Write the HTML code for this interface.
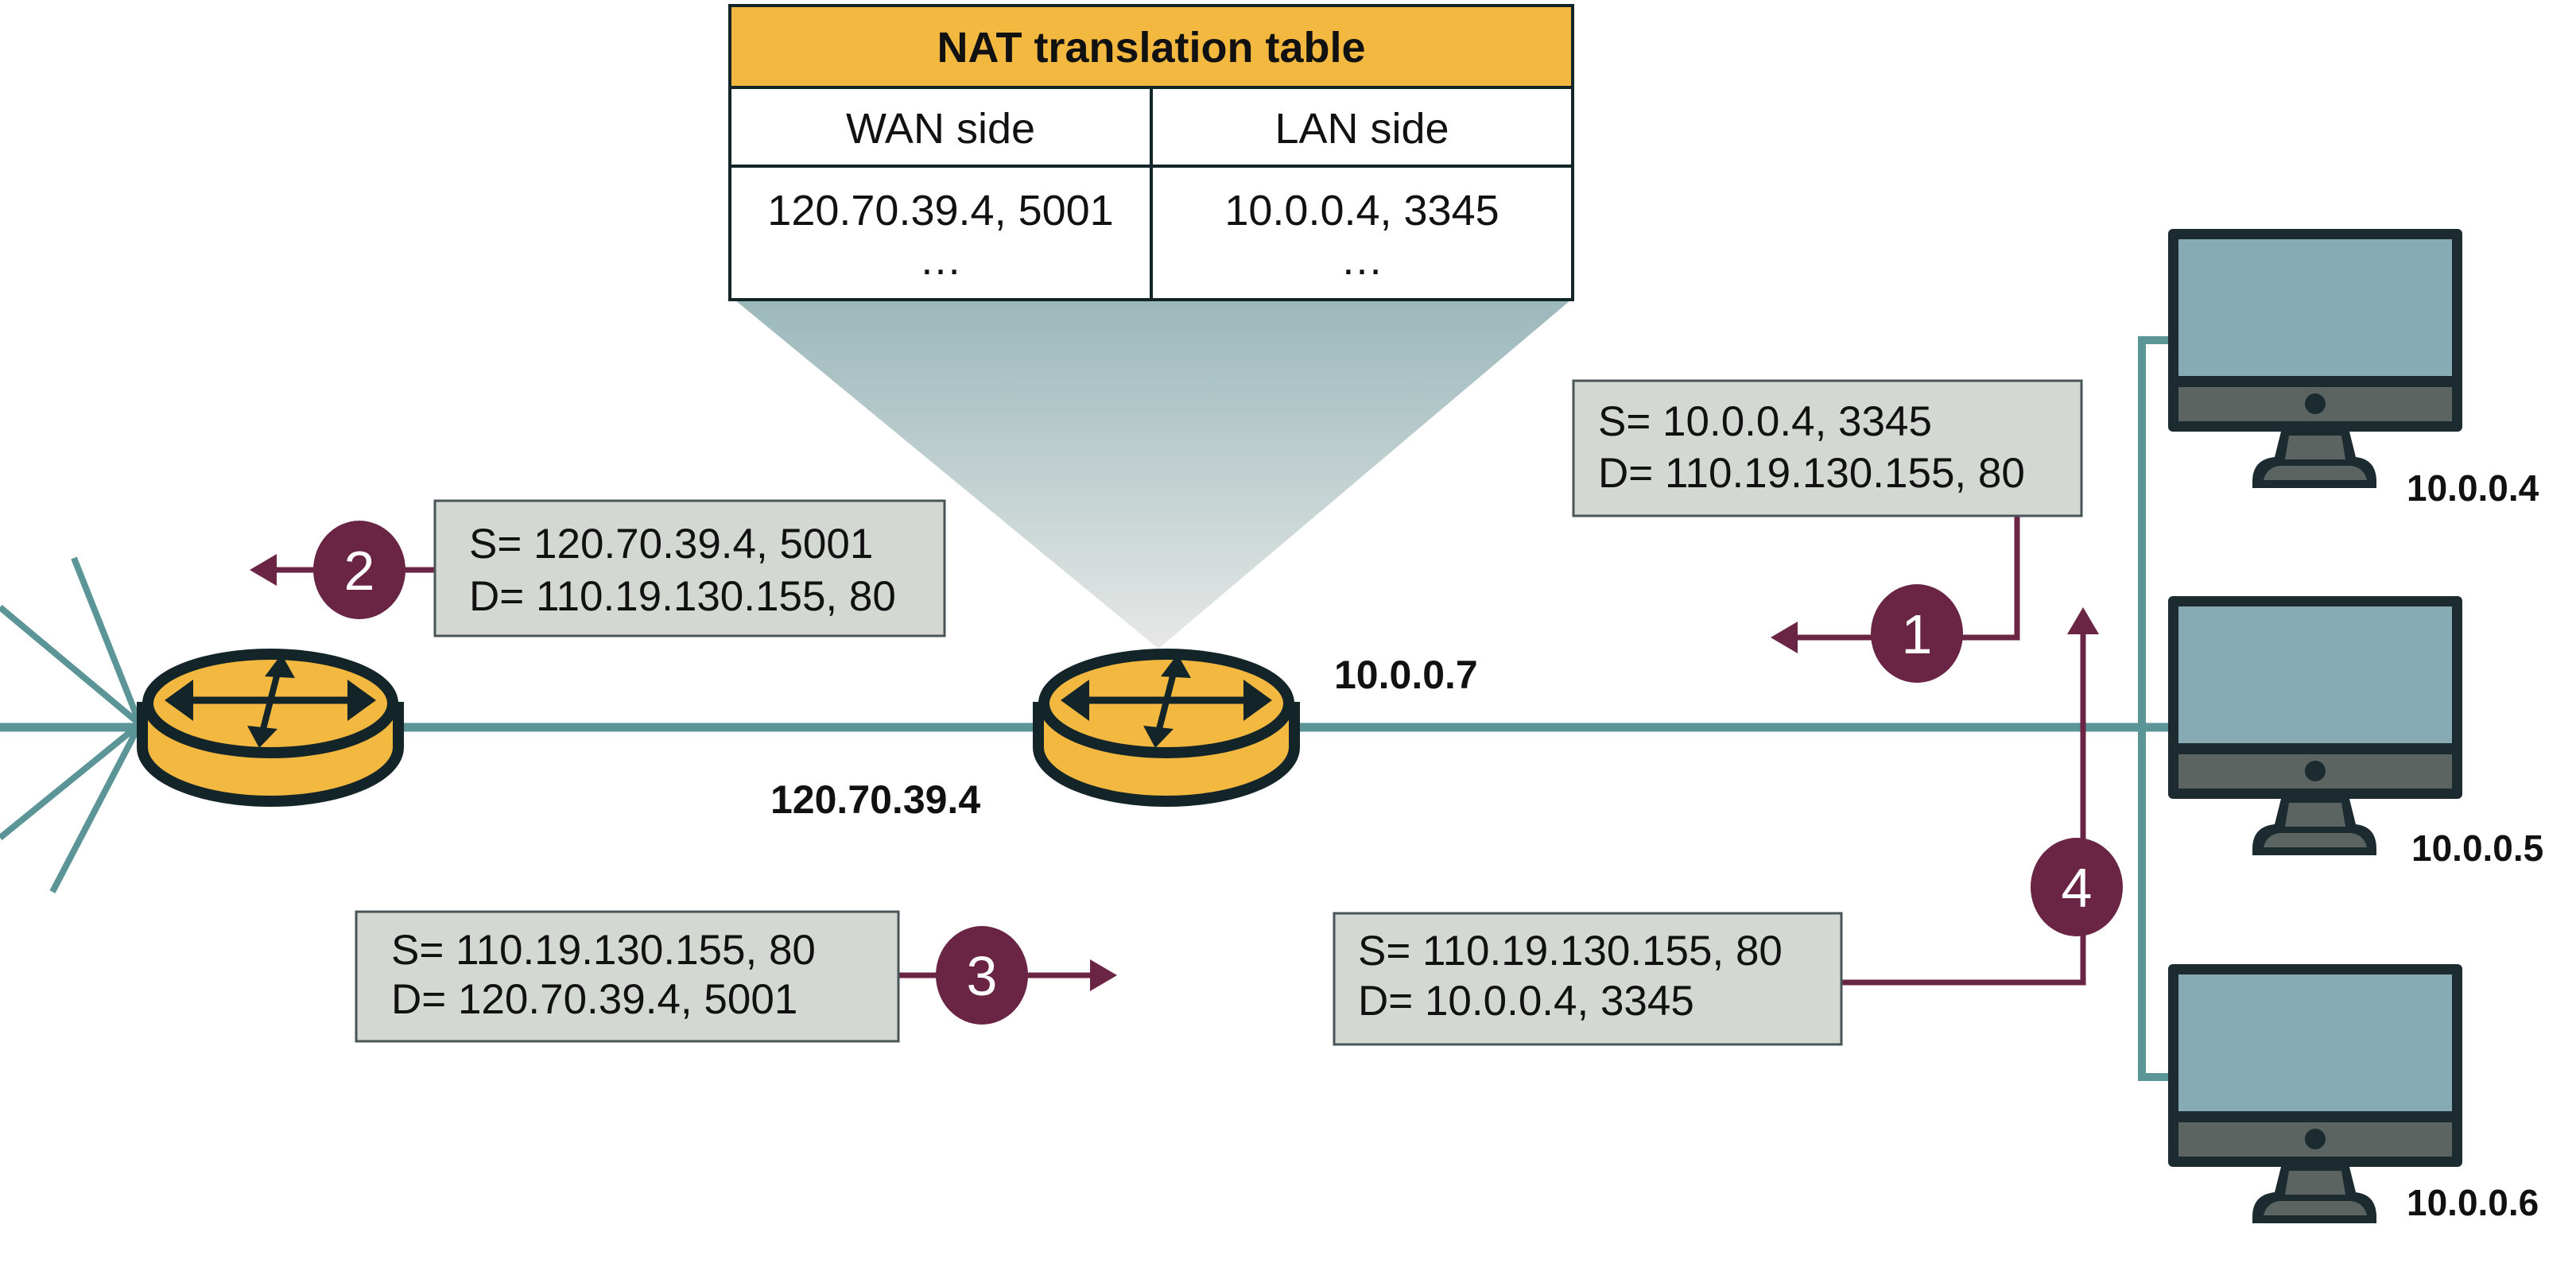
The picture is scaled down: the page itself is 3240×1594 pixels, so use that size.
<!DOCTYPE html>
<html><head><meta charset="utf-8"><style>
html,body{margin:0;padding:0;background:#fff;}
svg{display:block;}
text{font-family:"Liberation Sans",Arial,sans-serif;}
</style></head><body>
<svg width="3240" height="1594" viewBox="0 0 3240 1594" xmlns="http://www.w3.org/2000/svg">
<defs>
<linearGradient id="cone" x1="0" y1="0" x2="0" y2="1">
<stop offset="0" stop-color="#9bb8bb"/>
<stop offset="1" stop-color="#e6e8e6"/>
</linearGradient>
<g id="mon">
<rect x="0" y="0" width="370" height="255" rx="6" fill="#1b2b30"/>
<rect x="13" y="13" width="344" height="172" fill="#87abb4"/>
<rect x="13" y="199" width="344" height="43" fill="#5c6462"/>
<circle cx="185" cy="220" r="13" fill="#1b2b30"/>
<path d="M142 255 L228 255 L236 287 Q262 290 262 318 L262 326 L106 326 L106 318 Q106 290 134 287 Z" fill="#1b2b30"/>
<path d="M152 260 L218 260 L223 290 L147 290 Z" fill="#5c6462"/>
<path d="M120 316 Q124 300 140 298 L230 298 Q246 300 250 316 Z" fill="#5c6462"/>
</g>
<g id="router">
<path d="M0 75 L0 125 A161 68 0 0 0 322 125 L322 75 Z" fill="#f2b840" stroke="#14252a" stroke-width="14"/>
<ellipse cx="161" cy="70" rx="154" ry="62" fill="#f2b840" stroke="#14252a" stroke-width="14"/>
<line x1="45" y1="66" x2="277" y2="66" stroke="#14252a" stroke-width="9"/>
<path d="M28 66 L64 40 L64 92 Z M294 66 L258 40 L258 92 Z" fill="#14252a"/>
<line x1="172" y1="24" x2="150" y2="110" stroke="#14252a" stroke-width="8"/>
<path d="M175 8 L154 36 L192 38 Z M147 126 L132 98 L170 102 Z" fill="#14252a"/>
</g>
</defs>

<polygon points="925,378 1975,378 1457,816" fill="url(#cone)"/>

<g stroke="#5b9597" stroke-width="8">
<line x1="176" y1="911" x2="0" y2="764"/>
<line x1="176" y1="911" x2="93" y2="702"/>
<line x1="176" y1="911" x2="0" y2="1054"/>
<line x1="176" y1="911" x2="66" y2="1122"/>
</g>
<line x1="0" y1="915" x2="2730" y2="915" stroke="#5b9597" stroke-width="11"/>
<polyline points="2730,428 2694,428 2694,1355 2730,1355" fill="none" stroke="#5b9597" stroke-width="10"/>

<use href="#router" x="179" y="815"/>
<use href="#router" x="1306" y="815"/>

<use href="#mon" x="2727" y="288"/>
<use href="#mon" x="2727" y="750"/>
<use href="#mon" x="2727" y="1213"/>
<g font-weight="bold" font-size="46" fill="#111">
<text x="3027" y="630">10.0.0.4</text>
<text x="3033" y="1083">10.0.0.5</text>
<text x="3027" y="1529">10.0.0.6</text>
<text x="1678" y="866" font-size="50">10.0.0.7</text>
<text x="969" y="1023" font-size="50">120.70.39.4</text>
</g>

<rect x="918" y="7" width="1060" height="370" fill="#fff" stroke="#14252a" stroke-width="4"/>
<rect x="918" y="7" width="1060" height="103" fill="#f2b840" stroke="#14252a" stroke-width="4"/>
<line x1="918" y1="209" x2="1978" y2="209" stroke="#14252a" stroke-width="4"/>
<line x1="1448" y1="110" x2="1448" y2="377" stroke="#14252a" stroke-width="4"/>
<g font-size="54" fill="#111" text-anchor="middle">
<text x="1448" y="78" font-weight="bold" font-size="54">NAT translation table</text>
<text x="1183" y="180">WAN side</text>
<text x="1713" y="180">LAN side</text>
<text x="1183" y="283">120.70.39.4, 5001</text>
<text x="1713" y="283">10.0.0.4, 3345</text>
<text x="1183" y="345">…</text>
<text x="1713" y="345">…</text>
</g>

<g stroke="#6a2444" stroke-width="7" fill="none">
<line x1="547" y1="717" x2="340" y2="717"/>
<line x1="1130" y1="1227" x2="1380" y2="1227"/>
<polyline points="2537,649 2537,802 2250,802"/>
<polyline points="2316,1236 2620,1236 2620,790"/>
</g>
<g fill="#6a2444">
<path d="M314 717 L348 697 L348 737 Z"/>
<path d="M1405 1227 L1371 1207 L1371 1247 Z"/>
<path d="M2227 802 L2261 782 L2261 822 Z"/>
<path d="M2620 764 L2600 798 L2640 798 Z"/>
<ellipse cx="452" cy="717" rx="58" ry="62"/>
<ellipse cx="1235" cy="1227" rx="58" ry="62"/>
<ellipse cx="2411" cy="797" rx="58" ry="62"/>
<ellipse cx="2612" cy="1116" rx="58" ry="62"/>
</g>
<g fill="#fff" font-size="70" text-anchor="middle">
<text x="452" y="742">2</text>
<text x="1235" y="1252">3</text>
<text x="2411" y="822">1</text>
<text x="2612" y="1141">4</text>
</g>

<g fill="#d3d8d2" stroke="#4a5558" stroke-width="3">
<rect x="547" y="630" width="641" height="170"/>
<rect x="448" y="1147" width="682" height="163"/>
<rect x="1678" y="1149" width="638" height="165"/>
<rect x="1979" y="479" width="639" height="170"/>
</g>
<g font-size="53" fill="#111">
<text x="590" y="702">S= 120.70.39.4, 5001</text>
<text x="590" y="768">D= 110.19.130.155, 80</text>
<text x="492" y="1213">S= 110.19.130.155, 80</text>
<text x="492" y="1275">D= 120.70.39.4, 5001</text>
<text x="1708" y="1214">S= 110.19.130.155, 80</text>
<text x="1708" y="1277">D= 10.0.0.4, 3345</text>
<text x="2010" y="548">S= 10.0.0.4, 3345</text>
<text x="2010" y="613">D= 110.19.130.155, 80</text>
</g>
</svg>
</body></html>
